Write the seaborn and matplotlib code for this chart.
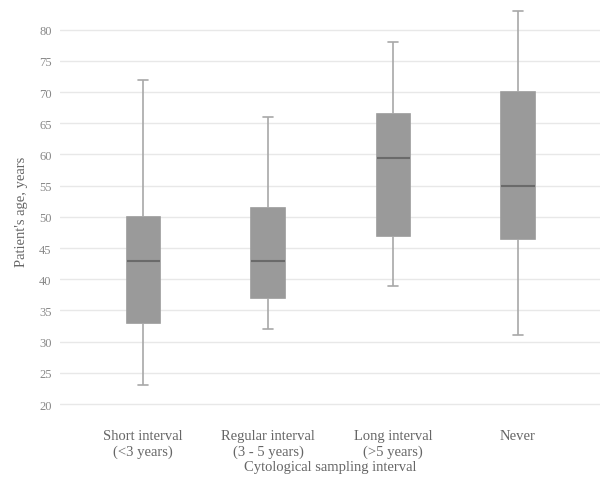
import pandas as pd
import seaborn as sns
import numpy as np
import matplotlib.pyplot as plt

# box statistics (whisker low, Q1, median, Q3, whisker high)
groups = ['Short interval\n(<3 years)', 'Regular interval\n(3 - 5 years)',
          'Long interval\n(>5 years)', 'Never']
low = [23, 32, 39, 31]
q1 = [33, 37, 47, 46.5]
median = [43, 43, 59.5, 55]
q3 = [50, 51.5, 66.5, 70]
high = [72, 66, 78, 83]
yticks = list(range(20, 85, 5))

# five points per group -> quartiles land exactly on the values above
rows = []
for g, a, b, c, d, e in zip(groups, low, q1, median, q3, high):
    for v in (a, b, c, d, e):
        rows.append({'interval': g, 'age': v})
df = pd.DataFrame(rows)

sns.set_theme(style='white')
plt.rcParams['font.family'] = ['Liberation Serif', 'DejaVu Serif']

fig = plt.figure(figsize=(6.04, 4.81), dpi=100)
ax = fig.add_axes([60 / 604, 0.132, 540 / 604, 0.856])

sns.boxplot(data=df, x='interval', y='age', order=groups, whis=np.inf,
            width=0.264, color='#9a9a9a', saturation=1, linewidth=1.2,
            boxprops=dict(facecolor='#9a9a9a', edgecolor='#9a9a9a'),
            medianprops=dict(color='#6a6a6a', linewidth=1.5),
            whiskerprops=dict(color='#a8a8a8', linewidth=1.2),
            capprops=dict(color='#a8a8a8', linewidth=1.2),
            ax=ax)

# shorter whisker caps
for ln in ax.lines:
    xd, yd = np.asarray(ln.get_xdata(), float), np.asarray(ln.get_ydata(), float)
    if len(xd) == 2 and yd[0] == yd[1] and 0 < abs(xd[1] - xd[0]) < 0.2:
        c = xd.mean()
        ln.set_xdata([c - 0.04, c + 0.04])

ax.set_xlim(-0.664, 3.656)
ax.set_ylim(18, 84)
ax.set_yticks(yticks)
ax.yaxis.grid(True, color='#e8e8e8', linewidth=1)
ax.set_axisbelow(True)
sns.despine(ax=ax, left=True, bottom=True)

ax.tick_params(axis='y', labelsize=9, labelcolor='#888888', length=0, pad=6)
ax.tick_params(axis='x', labelsize=10.5, labelcolor='#666666', length=0, pad=9)
ax.set_xlabel('Cytological sampling interval', fontsize=10.5, color='#666666',
              labelpad=2)
ax.set_ylabel("Patient's age, years", fontsize=10.5, color='#666666',
              labelpad=8)

fig.savefig('out.png', dpi=100)
